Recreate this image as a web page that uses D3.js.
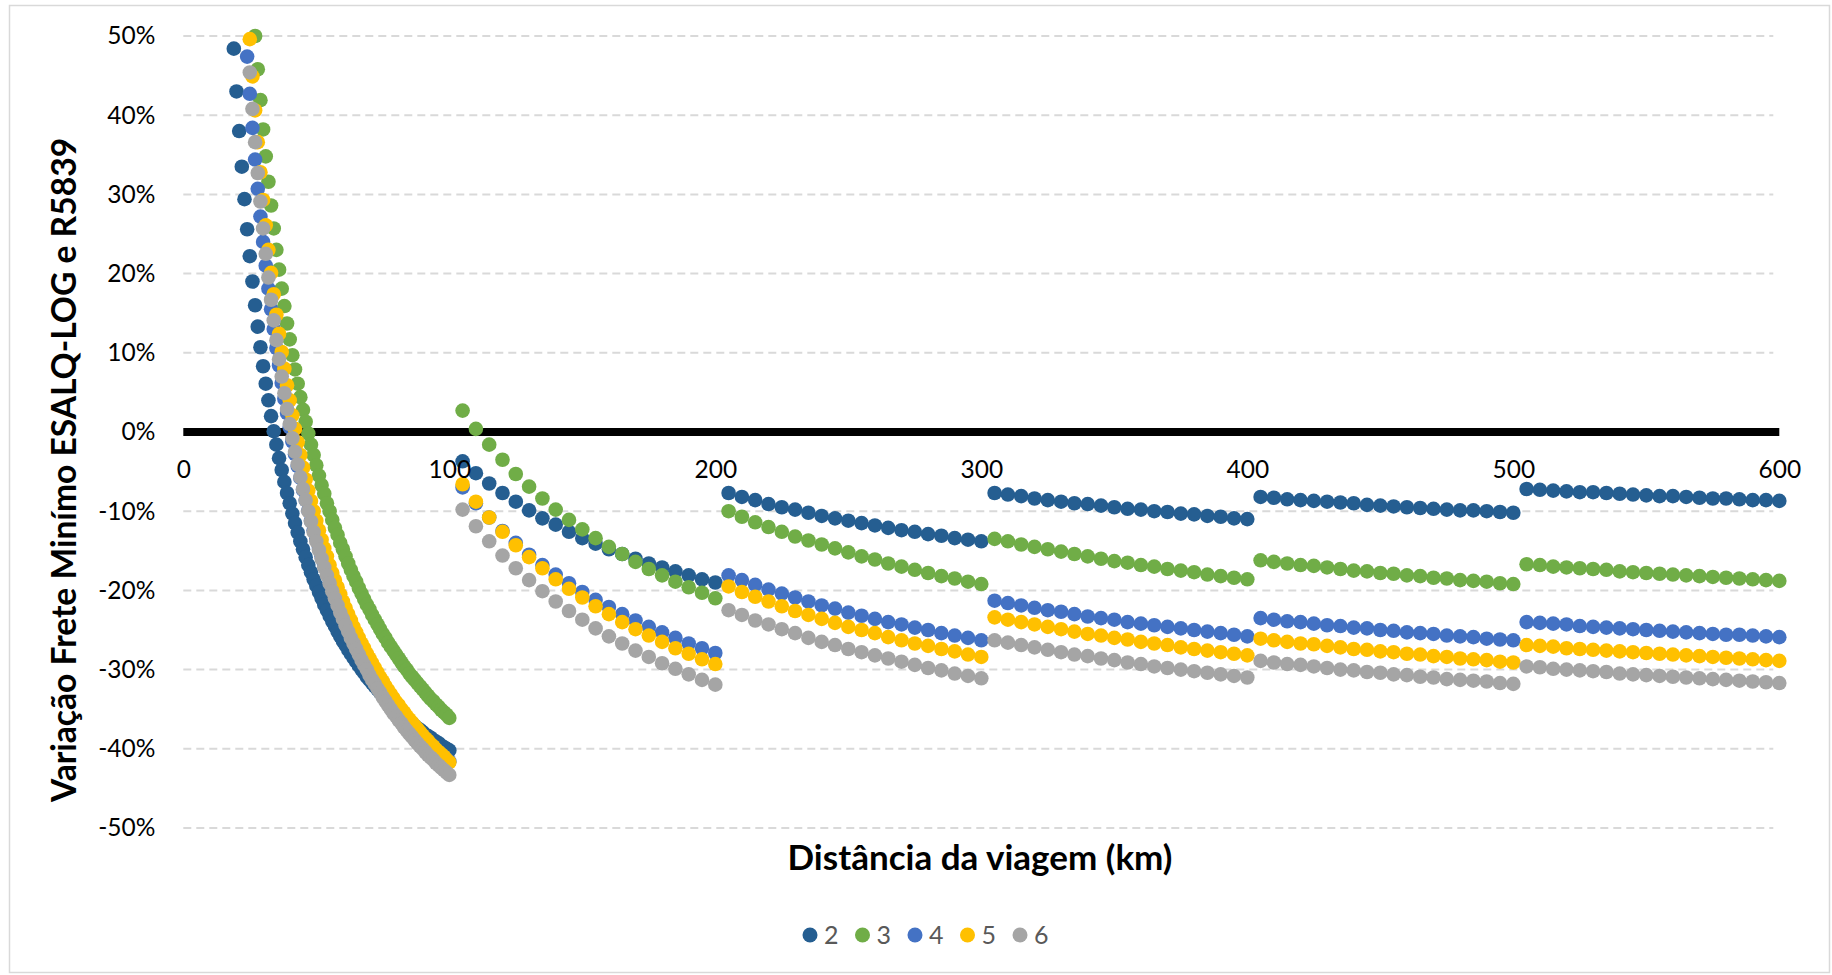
<!DOCTYPE html>
<meta charset="utf-8">
<script src="https://d3js.org/d3.v7.min.js"></script>
<style>
    body { margin: 0; background: #fff; }
    svg text { font-family: Lato, "Open Sans", sans-serif; }
</style>
<div id="vis"></div>
<script>
    // distancias (km)
    var kmCurta = [19, 20, 21, 22, 23, 24, 25, 26, 27, 28, 29, 30, 31, 32, 33, 34, 35, 36, 37, 38,
        39, 40, 41, 42, 43, 44, 45, 46, 47, 48, 49, 50, 51, 52, 53, 54, 55, 56, 57, 58,
        59, 60, 61, 62, 63, 64, 65, 66, 67, 68, 69, 70, 71, 72, 73, 74, 75, 76, 77, 78,
        79, 80, 81, 82, 83, 84, 85, 86, 87, 88, 89, 90, 91, 92, 93, 94, 95, 96, 97, 98, 99, 100];
    var kmLonga = [105, 110, 115, 120, 125, 130, 135, 140, 145, 150, 155, 160, 165, 170, 175, 180, 185, 190, 195, 200,
        205, 210, 215, 220, 225, 230, 235, 240, 245, 250, 255, 260, 265, 270, 275, 280, 285, 290, 295, 300,
        305, 310, 315, 320, 325, 330, 335, 340, 345, 350, 355, 360, 365, 370, 375, 380, 385, 390, 395, 400,
        405, 410, 415, 420, 425, 430, 435, 440, 445, 450, 455, 460, 465, 470, 475, 480, 485, 490, 495, 500,
        505, 510, 515, 520, 525, 530, 535, 540, 545, 550, 555, 560, 565, 570, 575, 580, 585, 590, 595, 600];

    // variacao (%) ate 100 km
    var var2Curta = [48.4, 43.0, 38.0, 33.5, 29.4, 25.6, 22.2, 19.0, 16.0, 13.3,
        10.7, 8.3, 6.1, 4.0, 2.0, 0.1, -1.6, -3.3, -4.8, -6.3,
        -7.7, -9.0, -10.3, -11.5, -12.7, -13.8, -14.8, -15.8, -16.8, -17.7,
        -18.6, -19.4, -20.2, -21.0, -21.8, -22.5, -23.2, -23.9, -24.5, -25.2,
        -25.8, -26.4, -26.9, -27.5, -28.0, -28.5, -29.0, -29.5, -30.0, -30.4,
        -30.9, -31.3, -31.7, -32.1, -32.5, -32.9, -33.3, -33.6, -34.0, -34.3,
        -34.7, -35.0, -35.3, -35.6, -36.0, -36.2, -36.5, -36.8, -37.1, -37.4,
        -37.6, -37.9, -38.2, -38.4, -38.6, -38.9, -39.1, -39.3, -39.6, -39.8,
        -40.0, -40.2];
    var var3Curta = [null, null, null, null, null, null, null, null,
        50.0, 45.8, 41.9, 38.2, 34.8, 31.6, 28.6, 25.7, 23.0, 20.5,
        18.1, 15.9, 13.7, 11.7, 9.7, 7.9, 6.1, 4.4, 2.8, 1.3,
        -0.2, -1.6, -2.9, -4.2, -5.5, -6.7, -7.8, -9.0, -10.0, -11.1,
        -12.1, -13.0, -14.0, -14.8, -15.7, -16.6, -17.4, -18.2, -18.9, -19.7,
        -20.4, -21.1, -21.8, -22.4, -23.1, -23.7, -24.3, -24.9, -25.5, -26.0,
        -26.6, -27.1, -27.6, -28.1, -28.6, -29.1, -29.6, -30.0, -30.5, -30.9,
        -31.3, -31.7, -32.1, -32.5, -32.9, -33.3, -33.7, -34.0, -34.4, -34.7,
        -35.1, -35.4, -35.7, -36.1];
    var var4Curta = [null, null, null, null, null,
        47.4, 42.7, 38.4, 34.4, 30.7, 27.2, 24.0, 21.0, 18.1, 15.5,
        13.0, 10.6, 8.4, 6.2, 4.2, 2.4, 0.6, -1.2, -2.8, -4.3,
        -5.8, -7.3, -8.6, -9.9, -11.2, -12.4, -13.5, -14.6, -15.7, -16.7,
        -17.7, -18.6, -19.5, -20.4, -21.3, -22.1, -22.9, -23.6, -24.4, -25.1,
        -25.8, -26.5, -27.1, -27.8, -28.4, -29.0, -29.6, -30.1, -30.7, -31.2,
        -31.7, -32.2, -32.7, -33.2, -33.7, -34.1, -34.6, -35.0, -35.4, -35.8,
        -36.2, -36.6, -37.0, -37.4, -37.8, -38.1, -38.5, -38.8, -39.2, -39.5,
        -39.8, -40.1, -40.4, -40.7, -41.0, -41.3, -41.6];
    var var5Curta = [null, null, null, null, null, null,
        49.6, 44.9, 40.6, 36.6, 32.8, 29.3, 26.1, 23.0, 20.1, 17.4,
        14.8, 12.4, 10.1, 8.0, 5.9, 4.0, 2.1, 0.4, -1.3, -2.9,
        -4.5, -6.0, -7.4, -8.7, -10.0, -11.2, -12.4, -13.6, -14.7, -15.7,
        -16.8, -17.8, -18.7, -19.6, -20.5, -21.4, -22.2, -23.0, -23.8, -24.6,
        -25.3, -26.0, -26.7, -27.3, -28.0, -28.6, -29.2, -29.8, -30.4, -31.0,
        -31.5, -32.1, -32.6, -33.1, -33.6, -34.1, -34.5, -35.0, -35.4, -35.9,
        -36.3, -36.7, -37.1, -37.5, -37.9, -38.3, -38.7, -39.0, -39.4, -39.7,
        -40.1, -40.4, -40.7, -41.0, -41.4, -41.7];
    var var6Curta = [null, null, null, null, null, null,
        45.4, 40.8, 36.6, 32.7, 29.1, 25.7, 22.5, 19.5, 16.7, 14.1,
        11.6, 9.2, 7.0, 4.9, 2.9, 1.0, -0.8, -2.5, -4.1, -5.7,
        -7.2, -8.6, -10.0, -11.3, -12.6, -13.8, -14.9, -16.0, -17.1, -18.1,
        -19.1, -20.1, -21.0, -21.9, -22.8, -23.6, -24.4, -25.2, -26.0, -26.7,
        -27.4, -28.1, -28.8, -29.4, -30.0, -30.7, -31.3, -31.8, -32.4, -32.9,
        -33.5, -34.0, -34.5, -35.0, -35.5, -35.9, -36.4, -36.8, -37.3, -37.7,
        -38.1, -38.5, -38.9, -39.3, -39.7, -40.0, -40.4, -40.8, -41.1, -41.4,
        -41.8, -42.1, -42.4, -42.7, -43.0, -43.3];

    // variacao (%) de 105 a 600 km
    var var2Longa = [-3.7, -5.2, -6.5, -7.7, -8.8, -9.9, -10.9, -11.7, -12.6, -13.4, -14.1, -14.8, -15.4, -16.0, -16.6, -17.1, -17.6, -18.1, -18.6, -19.0,
        -7.7, -8.2, -8.6, -9.1, -9.5, -9.8, -10.2, -10.6, -10.9, -11.2, -11.5, -11.8, -12.1, -12.4, -12.6, -12.9, -13.1, -13.4, -13.6, -13.8,
        -7.7, -7.9, -8.1, -8.4, -8.6, -8.8, -9.0, -9.1, -9.3, -9.5, -9.7, -9.8, -10.0, -10.1, -10.3, -10.4, -10.6, -10.7, -10.9, -11.0,
        -8.2, -8.3, -8.5, -8.6, -8.7, -8.8, -8.9, -9.0, -9.2, -9.3, -9.4, -9.5, -9.6, -9.7, -9.8, -9.9, -9.9, -10.0, -10.1, -10.2,
        -7.2, -7.3, -7.4, -7.5, -7.6, -7.6, -7.7, -7.8, -7.9, -8.0, -8.1, -8.1, -8.2, -8.3, -8.4, -8.4, -8.5, -8.6, -8.6, -8.7];
    var var3Longa = [2.7, 0.4, -1.6, -3.5, -5.3, -6.9, -8.4, -9.8, -11.1, -12.3, -13.4, -14.5, -15.4, -16.4, -17.3, -18.1, -18.9, -19.6, -20.3, -21.0,
        -10.0, -10.7, -11.4, -12.0, -12.6, -13.2, -13.7, -14.2, -14.7, -15.2, -15.7, -16.1, -16.6, -17.0, -17.4, -17.8, -18.2, -18.5, -18.9, -19.2,
        -13.5, -13.8, -14.2, -14.5, -14.8, -15.1, -15.4, -15.7, -16.0, -16.3, -16.5, -16.8, -17.0, -17.3, -17.5, -17.7, -18.0, -18.2, -18.4, -18.6,
        -16.2, -16.4, -16.6, -16.8, -16.9, -17.1, -17.3, -17.5, -17.6, -17.8, -17.9, -18.1, -18.2, -18.4, -18.5, -18.7, -18.8, -18.9, -19.1, -19.2,
        -16.7, -16.8, -17.0, -17.1, -17.2, -17.3, -17.4, -17.6, -17.7, -17.8, -17.9, -18.0, -18.1, -18.2, -18.3, -18.4, -18.5, -18.6, -18.7, -18.8];
    var var4Longa = [-7.0, -9.0, -10.8, -12.5, -14.0, -15.5, -16.8, -18.0, -19.1, -20.2, -21.2, -22.1, -23.0, -23.8, -24.6, -25.3, -26.0, -26.7, -27.3, -27.9,
        -18.1, -18.7, -19.3, -19.9, -20.4, -20.9, -21.4, -21.9, -22.3, -22.8, -23.2, -23.6, -24.0, -24.3, -24.7, -25.0, -25.4, -25.7, -26.0, -26.3,
        -21.3, -21.6, -21.9, -22.2, -22.5, -22.7, -23.0, -23.3, -23.5, -23.7, -24.0, -24.2, -24.4, -24.6, -24.8, -25.0, -25.2, -25.4, -25.6, -25.8,
        -23.5, -23.7, -23.9, -24.0, -24.2, -24.4, -24.5, -24.7, -24.8, -25.0, -25.1, -25.3, -25.4, -25.5, -25.7, -25.8, -25.9, -26.1, -26.2, -26.3,
        -24.0, -24.1, -24.2, -24.3, -24.5, -24.6, -24.7, -24.8, -24.9, -25.0, -25.1, -25.2, -25.3, -25.4, -25.5, -25.6, -25.6, -25.7, -25.8, -25.9];
    var var5Longa = [-6.6, -8.8, -10.8, -12.6, -14.3, -15.8, -17.2, -18.6, -19.8, -20.9, -22.0, -23.0, -24.0, -24.9, -25.7, -26.5, -27.3, -28.0, -28.7, -29.3,
        -19.5, -20.2, -20.8, -21.4, -22.0, -22.6, -23.1, -23.6, -24.1, -24.6, -25.0, -25.4, -25.9, -26.3, -26.7, -27.0, -27.4, -27.7, -28.1, -28.4,
        -23.4, -23.7, -24.0, -24.3, -24.6, -24.9, -25.2, -25.5, -25.7, -26.0, -26.2, -26.5, -26.7, -26.9, -27.2, -27.4, -27.6, -27.8, -28.0, -28.2,
        -26.1, -26.3, -26.5, -26.7, -26.8, -27.0, -27.2, -27.4, -27.5, -27.7, -27.8, -28.0, -28.1, -28.3, -28.4, -28.6, -28.7, -28.8, -29.0, -29.1,
        -26.9, -27.0, -27.1, -27.3, -27.4, -27.5, -27.6, -27.7, -27.8, -27.9, -28.0, -28.1, -28.2, -28.3, -28.4, -28.5, -28.6, -28.7, -28.8, -28.9];
    var var6Longa = [-9.8, -11.9, -13.8, -15.6, -17.2, -18.7, -20.1, -21.4, -22.6, -23.7, -24.8, -25.8, -26.7, -27.6, -28.4, -29.2, -29.9, -30.6, -31.3, -31.9,
        -22.5, -23.1, -23.8, -24.3, -24.9, -25.4, -26.0, -26.5, -26.9, -27.4, -27.8, -28.2, -28.6, -29.0, -29.4, -29.8, -30.1, -30.5, -30.8, -31.1,
        -26.3, -26.6, -26.9, -27.2, -27.5, -27.8, -28.1, -28.3, -28.6, -28.8, -29.1, -29.3, -29.6, -29.8, -30.0, -30.2, -30.4, -30.6, -30.8, -31.0,
        -28.9, -29.1, -29.3, -29.4, -29.6, -29.8, -30.0, -30.1, -30.3, -30.4, -30.6, -30.7, -30.9, -31.0, -31.2, -31.3, -31.4, -31.5, -31.7, -31.8,
        -29.6, -29.7, -29.9, -30.0, -30.1, -30.2, -30.3, -30.5, -30.6, -30.7, -30.8, -30.9, -31.0, -31.1, -31.2, -31.3, -31.4, -31.5, -31.6, -31.7];

    var eixos = ["2", "3", "4", "5", "6"];
    var curtas = [var2Curta, var3Curta, var4Curta, var5Curta, var6Curta];
    var longas = [var2Longa, var3Longa, var4Longa, var5Longa, var6Longa];
    var xTicks = [0, 100, 200, 300, 400, 500, 600];
    var yTicks = [-50, -40, -30, -20, -10, 0, 10, 20, 30, 40, 50];

    var cores = ["#255E91", "#70AD47", "#4472C4", "#FFC000", "#A5A5A5"];

    // dimensions
    var W = 1832, H = 975;
    var svg = d3.select("#vis")
        .append("svg")
        .attr("width", W)
        .attr("height", H);

    // chart border
    svg.append("rect")
        .attr("x", 9.5).attr("y", 5.5)
        .attr("width", 1820).attr("height", 967)
        .attr("fill", "#fff")
        .attr("stroke", "#d9d9d9")
        .attr("stroke-width", 1.5);

    var x = d3.scaleLinear().domain([0, 600]).range([183.3, 1779.3]);
    var y = d3.scaleLinear().domain([-50, 50]).range([828, 36]);

    // gridlines
    svg.append("g")
        .selectAll("line")
        .data(yTicks.filter(function (d) { return d !== 0; }))
        .enter()
        .append("line")
        .attr("x1", x(0))
        .attr("x2", x(600) - 6)
        .attr("y1", function (d) { return y(d); })
        .attr("y2", function (d) { return y(d); })
        .attr("stroke", "#d9d9d9")
        .attr("stroke-width", 2)
        .attr("stroke-dasharray", "8,5");

    // thick zero line
    svg.append("line")
        .attr("x1", x(0))
        .attr("x2", x(600))
        .attr("y1", y(0))
        .attr("y2", y(0))
        .attr("stroke", "#000")
        .attr("stroke-width", 8);

    // points
    var series = eixos.map(function (nome, i) {
        var pts = [];
        kmCurta.forEach(function (km, j) {
            if (curtas[i][j] !== null) pts.push({ km: km, v: curtas[i][j] });
        });
        kmLonga.forEach(function (km, j) {
            pts.push({ km: km, v: longas[i][j] });
        });
        return { nome: nome, cor: cores[i], pts: pts };
    });

    svg.append("g")
        .selectAll("g")
        .data(series)
        .enter()
        .append("g")
        .attr("fill", function (d) { return d.cor; })
        .selectAll("circle")
        .data(function (d) { return d.pts; })
        .enter()
        .append("circle")
        .attr("cx", function (d) { return x(d.km); })
        .attr("cy", function (d) { return y(d.v); })
        .attr("r", 7.3);

    // axes
    var xAxis = svg.append("g")
        .attr("transform", "translate(0," + y(0) + ")")
        .call(d3.axisBottom(x).tickValues(xTicks).tickSize(0).tickPadding(29));
    xAxis.select(".domain").remove();
    xAxis.selectAll("text")
        .attr("fill", "#000")
        .style("font-size", "24.5px");

    var yAxis = svg.append("g")
        .attr("transform", "translate(" + x(0) + ",0)")
        .call(d3.axisLeft(y).tickValues(yTicks).tickSize(0).tickPadding(28)
            .tickFormat(function (d) { return d + "%"; }));
    yAxis.select(".domain").remove();
    yAxis.selectAll("text")
        .attr("fill", "#000")
        .style("font-size", "24.5px");

    // axes labels
    svg.append("text")
        .attr("x", 980)
        .attr("y", 870)
        .text("Distância da viagem (km)")
        .style("text-anchor", "middle")
        .style("font-weight", "bold")
        .style("font-size", "35px");
    svg.append("text")
        .attr("transform", "translate(76,470) rotate(-90)")
        .text("Variação Frete Minímo ESALQ-LOG e R5839")
        .style("text-anchor", "middle")
        .style("font-weight", "bold")
        .style("font-size", "33.6px");

    // legend
    var leg = svg.append("g")
        .selectAll("g")
        .data(series)
        .enter()
        .append("g")
        .attr("transform", function (d, i) { return "translate(" + (810 + i * 52.5) + ",935)"; });
    leg.append("circle")
        .attr("r", 7.5)
        .attr("fill", function (d) { return d.cor; });
    leg.append("text")
        .attr("x", 14)
        .attr("dy", "0.36em")
        .text(function (d) { return d.nome; })
        .attr("fill", "#595959")
        .style("font-size", "25px");
</script>
